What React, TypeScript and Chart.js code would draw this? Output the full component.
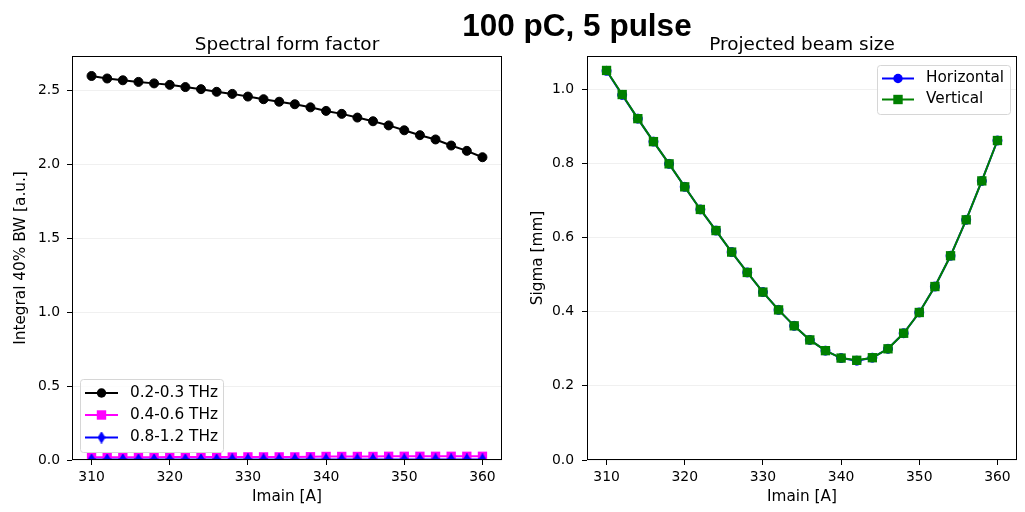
import React, { useEffect, useRef } from 'react';
import { Chart, registerables } from 'chart.js';

Chart.register(...registerables);

// ---------------- data ----------------
const currents = [310, 312, 314, 316, 318, 320, 322, 324, 326, 328, 330, 332, 334, 336, 338, 340, 342, 344, 346, 348, 350, 352, 354, 356, 358, 360];

const sff_02_03 = [2.595, 2.578, 2.566, 2.555, 2.545, 2.535, 2.52, 2.506, 2.488, 2.474, 2.456, 2.438, 2.421, 2.404, 2.383, 2.359, 2.339, 2.314, 2.289, 2.261, 2.228, 2.195, 2.166, 2.125, 2.089, 2.046];
const sff_04_06 = [0.019, 0.019, 0.019, 0.019, 0.019, 0.02, 0.02, 0.02, 0.02, 0.02, 0.021, 0.021, 0.021, 0.021, 0.022, 0.024, 0.024, 0.024, 0.024, 0.025, 0.025, 0.025, 0.025, 0.025, 0.025, 0.025];
const sff_08_12 = [0.003, 0.003, 0.003, 0.003, 0.003, 0.003, 0.003, 0.003, 0.003, 0.004, 0.004, 0.004, 0.004, 0.004, 0.004, 0.004, 0.004, 0.004, 0.004, 0.004, 0.004, 0.004, 0.004, 0.004, 0.004, 0.004];

const sigmaH = [1.05, 0.985, 0.921, 0.859, 0.799, 0.737, 0.676, 0.619, 0.561, 0.506, 0.453, 0.405, 0.362, 0.324, 0.295, 0.275, 0.268, 0.276, 0.3, 0.342, 0.398, 0.468, 0.551, 0.648, 0.753, 0.862];
const sigmaV = [1.051, 0.986, 0.921, 0.859, 0.799, 0.737, 0.676, 0.619, 0.561, 0.506, 0.453, 0.405, 0.362, 0.324, 0.295, 0.275, 0.269, 0.276, 0.3, 0.342, 0.398, 0.468, 0.551, 0.648, 0.753, 0.862];

const xTicks = [310, 320, 330, 340, 350, 360];
const leftYTicks = [0, 0.5, 1.0, 1.5, 2.0, 2.5];
const rightYTicks = [0, 0.2, 0.4, 0.6, 0.8, 1.0];

const leftLabels = ['0.2-0.3 THz', '0.4-0.6 THz', '0.8-1.2 THz'];
const rightLabels = ['Horizontal', 'Vertical'];

const FONT = "'DejaVu Sans', 'Noto Sans', sans-serif";
const LABEL_SIZE = 15.3;
const TICK_SIZE = 13.9;
const TITLE_SIZE = 18.4;

// --------------- helpers ---------------
function makeThinDiamond(color: string): HTMLCanvasElement {
  const c = document.createElement('canvas');
  c.width = 8;
  c.height = 12;
  const g = c.getContext('2d')!;
  g.fillStyle = color;
  g.strokeStyle = color;
  g.lineWidth = 1.2;
  g.beginPath();
  g.moveTo(4, 0.8);
  g.lineTo(7.2, 6);
  g.lineTo(4, 11.2);
  g.lineTo(0.8, 6);
  g.closePath();
  g.fill();
  g.stroke();
  return c;
}

type LegendItem = { label: string; color: string; marker: 'circle' | 'square' | 'diamond' };

function drawMarker(ctx: CanvasRenderingContext2D, m: string, x: number, y: number, color: string, diamond?: HTMLCanvasElement) {
  ctx.fillStyle = color;
  ctx.strokeStyle = color;
  if (m === 'circle') {
    ctx.beginPath();
    ctx.arc(x, y, 4.7, 0, Math.PI * 2);
    ctx.fill();
  } else if (m === 'square') {
    ctx.fillRect(x - 4.7, y - 4.7, 9.4, 9.4);
  } else if (diamond) {
    ctx.drawImage(diamond, x - diamond.width / 2, y - diamond.height / 2);
  }
}

function legendPlugin(id: string, box: { x: number; y: number; w: number; h: number }, rows: number[], items: LegendItem[], lineX0: number, lineX1: number, textX: number, diamond?: HTMLCanvasElement) {
  return {
    id,
    afterDraw(chart: any) {
      const ctx: CanvasRenderingContext2D = chart.ctx;
      ctx.save();
      const r = 3;
      ctx.beginPath();
      ctx.moveTo(box.x + r, box.y);
      ctx.lineTo(box.x + box.w - r, box.y);
      ctx.arcTo(box.x + box.w, box.y, box.x + box.w, box.y + r, r);
      ctx.lineTo(box.x + box.w, box.y + box.h - r);
      ctx.arcTo(box.x + box.w, box.y + box.h, box.x + box.w - r, box.y + box.h, r);
      ctx.lineTo(box.x + r, box.y + box.h);
      ctx.arcTo(box.x, box.y + box.h, box.x, box.y + box.h - r, r);
      ctx.lineTo(box.x, box.y + r);
      ctx.arcTo(box.x, box.y, box.x + r, box.y, r);
      ctx.closePath();
      ctx.fillStyle = 'rgba(255,255,255,0.8)';
      ctx.fill();
      ctx.strokeStyle = '#d6d6d6';
      ctx.lineWidth = 1;
      ctx.stroke();
      items.forEach((it, i) => {
        const y = rows[i];
        ctx.strokeStyle = it.color;
        ctx.lineWidth = 2;
        ctx.beginPath();
        ctx.moveTo(lineX0, y);
        ctx.lineTo(lineX1, y);
        ctx.stroke();
        drawMarker(ctx, it.marker, (lineX0 + lineX1) / 2, y, it.color, diamond);
        ctx.fillStyle = '#000';
        ctx.font = `${LABEL_SIZE}px ${FONT}`;
        ctx.textBaseline = 'middle';
        ctx.textAlign = 'left';
        ctx.fillText(it.label, textX, y);
      });
      ctx.restore();
    },
  };
}

function axesTitlePlugin(text: string) {
  return {
    id: 'axesTitle',
    afterDraw(chart: any) {
      const { ctx, chartArea } = chart;
      ctx.save();
      ctx.fillStyle = '#000';
      ctx.font = `${TITLE_SIZE}px ${FONT}`;
      ctx.textAlign = 'center';
      ctx.textBaseline = 'alphabetic';
      ctx.fillText(text, (chartArea.left + chartArea.right) / 2, 49.5);
      ctx.restore();
    },
  };
}

const framePlugin = {
  id: 'frame',
  afterDatasetsDraw(chart: any) {
    const { ctx, chartArea } = chart;
    const { left, right, top, bottom } = chartArea;
    ctx.save();
    ctx.strokeStyle = '#000';
    ctx.lineWidth = 1;
    ctx.strokeRect(Math.round(left) + 0.5, Math.round(top) + 0.5, Math.round(right - left) - 1, Math.round(bottom - top) - 1);
    ctx.restore();
  },
};

function baseOptions(yTitle: string, yMax: number, yTicks: number[], yWidth: number, padRight: number, yTitlePad: number, yTickPad: number) {
  return {
    responsive: false,
    animation: false as const,
    events: [] as any[],
    layout: { padding: { left: 0, right: padRight, top: 56, bottom: 0 } },
    plugins: {
      legend: { display: false },
      tooltip: { enabled: false },
      title: { display: false },
    },
    scales: {
      x: {
        type: 'linear' as const,
        min: 307.5,
        max: 362.5,
        afterBuildTicks: (s: any) => {
          s.ticks = xTicks.map((v) => ({ value: v }));
        },
        afterFit: (s: any) => {
          s.height = 52;
        },
        ticks: {
          color: '#000',
          font: { family: FONT, size: TICK_SIZE },
          padding: 4,
          maxRotation: 0,
          autoSkip: false,
          callback: (v: any) => String(v),
        },
        grid: { drawOnChartArea: false, drawTicks: true, tickLength: 5, tickColor: '#000', tickWidth: 1 },
        border: { display: false },
        title: {
          display: true,
          text: 'Imain [A]',
          color: '#000',
          font: { family: FONT, size: LABEL_SIZE, lineHeight: 1.2 },
          padding: { top: 0, bottom: 5.5 },
        },
      },
      y: {
        type: 'linear' as const,
        min: 0,
        max: yMax,
        afterBuildTicks: (s: any) => {
          s.ticks = yTicks.map((v) => ({ value: v }));
        },
        afterFit: (s: any) => {
          s.width = yWidth;
        },
        ticks: {
          color: '#000',
          font: { family: FONT, size: TICK_SIZE },
          padding: yTickPad,
          autoSkip: false,
          callback: (v: any) => Number(v).toFixed(1),
        },
        grid: { drawOnChartArea: true, color: 'rgba(0,0,0,0.06)', lineWidth: 1, drawTicks: true, tickLength: 5, tickColor: '#000', tickWidth: 1 },
        border: { display: false },
        title: {
          display: true,
          text: yTitle,
          color: '#000',
          font: { family: FONT, size: LABEL_SIZE, lineHeight: 1.2 },
          padding: { top: yTitlePad, bottom: 0 },
        },
      },
    },
  };
}

export default function App() {
  const leftRef = useRef<HTMLCanvasElement>(null);
  const rightRef = useRef<HTMLCanvasElement>(null);

  useEffect(() => {
    const diamond = makeThinDiamond('#0000ff');
    const pts = (ys: number[]) => currents.map((x, i) => ({ x, y: ys[i] }));

    const left = new Chart(leftRef.current!, {
      type: 'line',
      data: {
        datasets: [
          {
            label: leftLabels[0],
            data: pts(sff_02_03),
            borderColor: '#000000',
            backgroundColor: '#000000',
            borderWidth: 2,
            pointStyle: 'circle',
            pointRadius: 4.5,
            pointBorderWidth: 1,
            order: 3,
            clip: 0,
          },
          {
            label: leftLabels[1],
            data: pts(sff_04_06),
            borderColor: '#ff00ff',
            backgroundColor: '#ff00ff',
            borderWidth: 2,
            pointStyle: 'rect',
            pointRadius: 6.6,
            pointBorderWidth: 0,
            order: 2,
            clip: 0,
          },
          {
            label: leftLabels[2],
            data: pts(sff_08_12),
            borderColor: '#0000ff',
            backgroundColor: '#0000ff',
            borderWidth: 2,
            pointStyle: diamond as any,
            pointRadius: 5,
            order: 1,
            clip: 0,
          },
        ],
      },
      options: baseOptions('Integral 40% BW [a.u.]', 2.73, leftYTicks, 72, 10, 11.8, 7) as any,
      plugins: [
        framePlugin,
        axesTitlePlugin('Spectral form factor'),
        legendPlugin(
          'legL',
          { x: 80.5, y: 379.5, w: 143, h: 73 },
          [393, 415, 437.5],
          [
            { label: leftLabels[0], color: '#000000', marker: 'circle' },
            { label: leftLabels[1], color: '#ff00ff', marker: 'square' },
            { label: leftLabels[2], color: '#0000ff', marker: 'diamond' },
          ],
          85,
          118,
          130,
          diamond
        ),
      ],
    });

    const right = new Chart(rightRef.current!, {
      type: 'line',
      data: {
        datasets: [
          {
            label: rightLabels[0],
            data: pts(sigmaH),
            borderColor: '#0000ff',
            backgroundColor: '#0000ff',
            borderWidth: 2,
            pointStyle: 'circle',
            pointRadius: 4.5,
            pointBorderWidth: 1,
            order: 2,
            clip: 0,
          },
          {
            label: rightLabels[1],
            data: pts(sigmaV),
            borderColor: '#008000',
            backgroundColor: '#008000',
            borderWidth: 2,
            pointStyle: 'rect',
            pointRadius: 6.6,
            pointBorderWidth: 0,
            order: 1,
            clip: 0,
          },
        ],
      },
      options: baseOptions('Sigma [mm]', 1.09, rightYTicks, 75, 8, 16.8, 8) as any,
      plugins: [
        framePlugin,
        axesTitlePlugin('Projected beam size'),
        legendPlugin(
          'legR',
          { x: 365.5, y: 65.5, w: 133, h: 49 },
          [78.5, 99.5],
          [
            { label: rightLabels[0], color: '#0000ff', marker: 'circle' },
            { label: rightLabels[1], color: '#008000', marker: 'square' },
          ],
          370,
          402,
          414
        ),
      ],
    });

    return () => {
      left.destroy();
      right.destroy();
    };
  }, []);

  return (
    <div style={{ position: 'fixed', left: 0, top: 0, width: 1025, height: 512, background: '#fff', overflow: 'hidden' }}>
      <canvas ref={leftRef} width={512} height={512} style={{ position: 'absolute', left: 0, top: 0, width: 512, height: 512 }} />
      <canvas ref={rightRef} width={513} height={512} style={{ position: 'absolute', left: 512, top: 0, width: 513, height: 512 }} />
      <div
        style={{
          position: 'absolute',
          left: 0,
          width: 1154,
          top: 6,
          textAlign: 'center',
          fontFamily: "'Liberation Sans', Arial, sans-serif",
          fontWeight: 'bold',
          fontSize: 31.5,
          lineHeight: '38px',
          color: '#000',
          pointerEvents: 'none',
        }}
      >
        100 pC, 5 pulse
      </div>
    </div>
  );
}
